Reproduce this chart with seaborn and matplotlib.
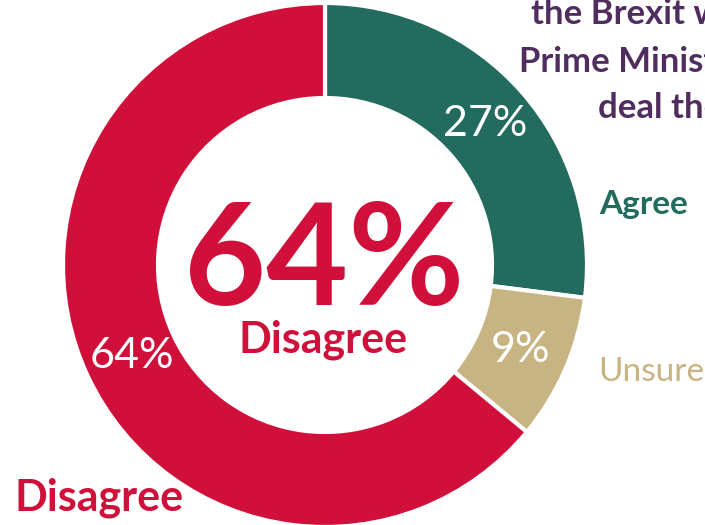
import matplotlib
matplotlib.use("Agg")
import matplotlib.pyplot as plt
import seaborn as sns

# survey answers, clockwise from 12 o'clock
answers = ["Agree", "Unsure", "Disagree"]
shares = [27, 9, 64]
colours = ["#226B5E", "#C8B482", "#D0103A"]
purple = "#4F2D5E"

title_lines = ["the Brexit withdrawal deal", "Prime Minister's", "deal the UK"]

sns.set_theme(style="white")
plt.rcParams["font.family"] = ["Lato", "DejaVu Sans"]

W, H = 705, 525
fig = plt.figure(figsize=(W / 100, H / 100), dpi=100)
ax = fig.add_axes([0, 0, 1, 1])

wedges, texts, pcts = ax.pie(
    shares,
    colors=colours,
    startangle=90,
    counterclock=False,
    radius=262,
    center=(325, H - 265),
    autopct=lambda p: f"{p:.0f}%",
    pctdistance=0.813,
    wedgeprops=dict(width=95, edgecolor="white", linewidth=3),
    textprops=dict(color="white", fontsize=31),
)

ax.set_xlim(0, W)
ax.set_ylim(0, H)
ax.set_aspect("equal")
ax.axis("off")

# big centre figure
ax.text(324, H - 305, f"{shares[2]}%", color=colours[2], fontsize=102,
        fontweight="bold", ha="center", va="baseline")
ax.text(323, H - 352, answers[2], color=colours[2], fontsize=31,
        fontweight="bold", ha="center", va="baseline")

# outer labels
ax.text(599, H - 214, answers[0], color=colours[0], fontsize=24,
        fontweight="bold", ha="left", va="baseline")
ax.text(598, H - 381, answers[1], color=colours[1], fontsize=24,
        ha="left", va="baseline")
ax.text(14, H - 510, answers[2], color=colours[2], fontsize=31,
        fontweight="bold", ha="left", va="baseline")

# title, cut off by the right edge as in the source
for x, y, line in zip([531, 519, 598], [24, 72, 118], title_lines):
    ax.text(x, H - y, line, color=purple, fontsize=25, fontweight="bold",
            ha="left", va="baseline")

fig.savefig("out.png", dpi=100)
